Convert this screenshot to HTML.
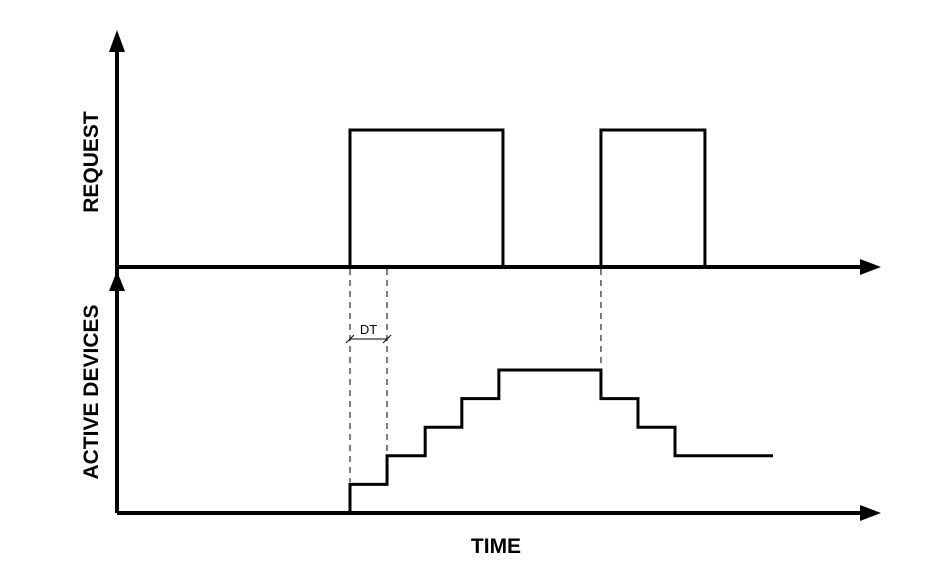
<!DOCTYPE html>
<html><head><meta charset="utf-8"><style>
html,body{margin:0;padding:0;background:#fff;width:951px;height:578px;overflow:hidden}
svg text{font-family:"Liberation Sans",sans-serif}
</style></head><body>
<svg id="c" width="951" height="578" viewBox="0 0 951 578">
<g id="axes">
<line x1="117" y1="50" x2="117" y2="513" stroke="#000" stroke-width="4"/>
<polygon points="109,52 125,52 117,30" fill="#000"/>
<polygon points="109,291 125,291 117,271" fill="#000"/>
<line x1="117" y1="267" x2="862" y2="267" stroke="#000" stroke-width="4"/>
<polygon points="860,259 860,275 881,267" fill="#000"/>
<line x1="117" y1="513" x2="862" y2="513" stroke="#000" stroke-width="4"/>
<polygon points="860,505 860,521 881,513" fill="#000"/>
<text x="98" y="162" transform="rotate(-90 98 162)" text-anchor="middle" font-size="21" font-weight="bold">REQUEST</text>
<text x="98" y="392" transform="rotate(-90 98 392)" text-anchor="middle" font-size="21" font-weight="bold">ACTIVE DEVICES</text>
<text x="496" y="553" text-anchor="middle" font-size="21" font-weight="bold">TIME</text>
</g>
</svg>
<script>
const pulseStarts=[6.23,12.94];
const pulseEnds=[10.32,15.72];
const stepTimes=[6.23,7.22,8.24,9.22,10.21,12.94,13.93,14.92,17.54];
const stepLevels=[1,2,3,4,5,4,3,2,2];
const dtMarks=[6.23,7.22];
const x=t=>117+t*37.4;
const yReq=v=>267-v*137;
const yAct=n=>513-n*28.6;
const svg=document.getElementById('c');
const NS='http://www.w3.org/2000/svg';
function mk(tag,attrs){const e=document.createElementNS(NS,tag);for(const k in attrs)e.setAttribute(k,attrs[k]);svg.appendChild(e);return e;}
pulseStarts.forEach((s,i)=>{
 const p=mk('polyline',{points:`${x(s)},${yReq(0)} ${x(s)},${yReq(1)} ${x(pulseEnds[i])},${yReq(1)} ${x(pulseEnds[i])},${yReq(0)}`,fill:'none',stroke:'#000','stroke-width':3});
 
 
});
let pts=`${x(stepTimes[0])},${yAct(0)}`;
for(let i=0;i<stepTimes.length;i++){
 const prev=i===0?0:stepLevels[i-1];
 if(i<stepTimes.length-1||stepLevels[i]!==prev) pts+=` ${x(stepTimes[i])},${yAct(prev)}`;
 pts+=` ${x(stepTimes[i])},${yAct(stepLevels[i])}`;
}
const st=mk('polyline',{points:pts,fill:'none',stroke:'#000','stroke-width':3});


const guides=[[stepTimes[0],stepLevels[0]],[stepTimes[1],stepLevels[1]],[pulseStarts[1],stepLevels[4]]];
guides.forEach((g,i)=>{
 const l=mk('line',{x1:x(g[0]),y1:269,x2:x(g[0]),y2:yAct(g[1])-2,stroke:'#000','stroke-width':1,'stroke-dasharray':'6,5'});
 
 
});
const a=mk('line',{x1:x(dtMarks[0]),y1:339,x2:x(dtMarks[1]),y2:339,stroke:'#000','stroke-width':1});


dtMarks.forEach((d,i)=>{
 const t=mk('line',{x1:x(d)-4,y1:343,x2:x(d)+4,y2:335,stroke:'#000','stroke-width':1});
 
 
});
const lbl=mk('text',{x:(x(dtMarks[0])+x(dtMarks[1]))/2,y:334,'text-anchor':'middle','font-size':13});
lbl.textContent='DT';


</script>
</body></html>
